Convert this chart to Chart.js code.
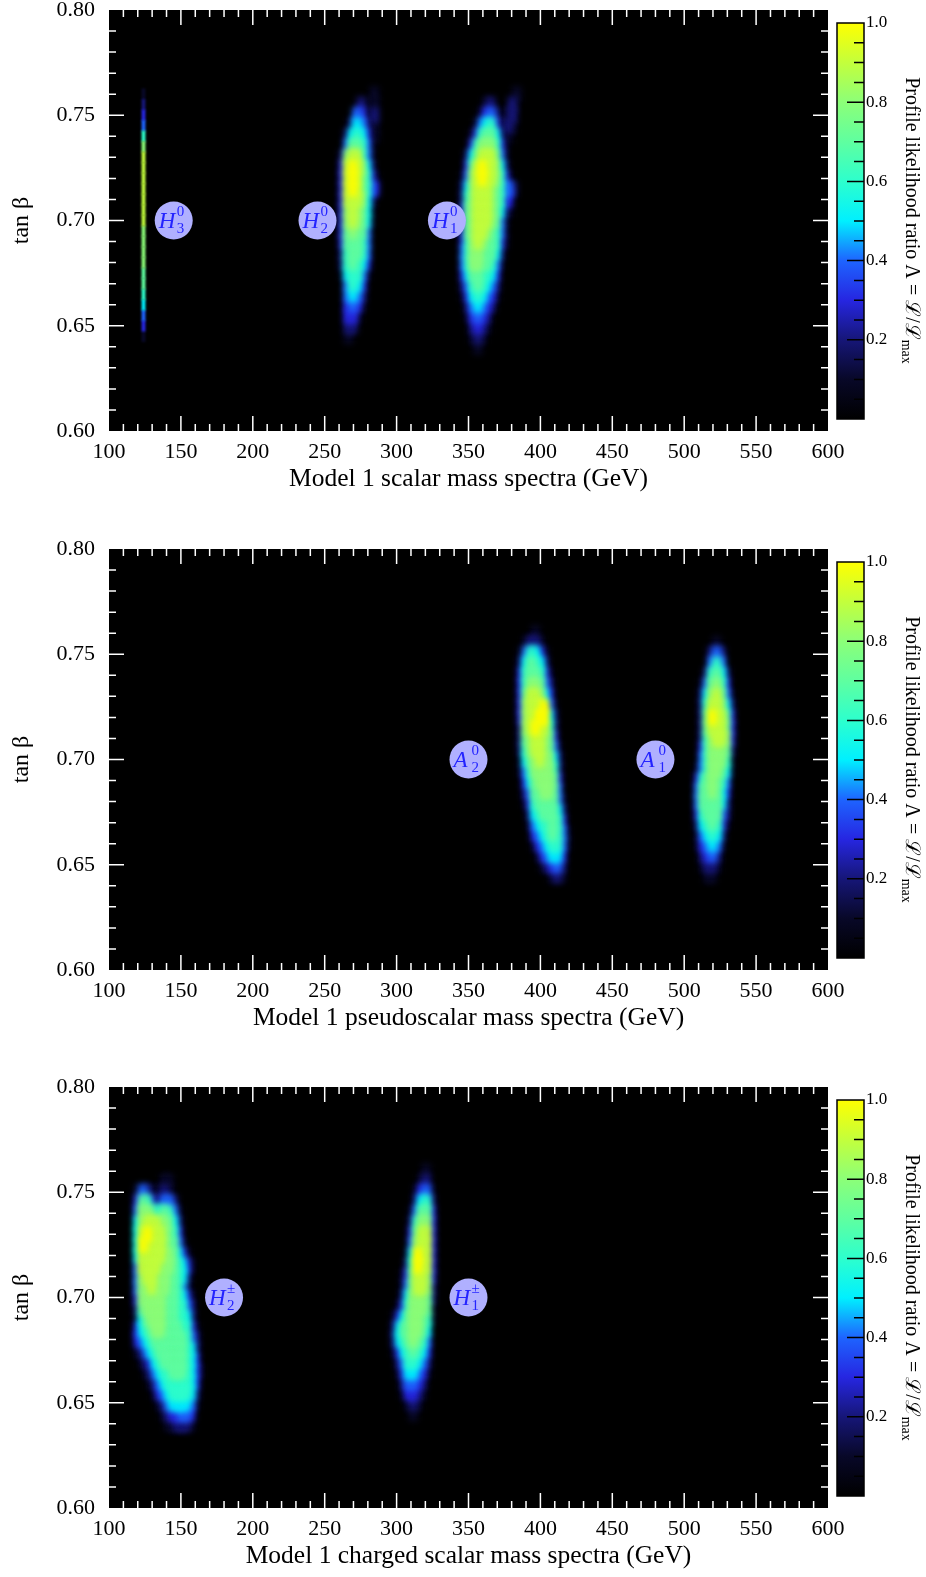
<!DOCTYPE html>
<html>
<head>
<meta charset="utf-8">
<script src="https://cdn.jsdelivr.net/npm/chart.js@4.4.1/dist/chart.umd.min.js"></script>
<style>
  html, body { margin: 0; padding: 0; background: #fff; }
  canvas { position: absolute; left: 0; }
</style>
</head>
<body>
<canvas id="scalar" style="top:0px" width="926" height="500"></canvas>
<canvas id="pseudo" style="top:539px" width="926" height="500"></canvas>
<canvas id="charged" style="top:1077px" width="926" height="500"></canvas>
<script>
/* AXES */
const massMin = 100, massMax = 600, massStep = 50;
const tanMin = 0.60, tanMax = 0.80, tanTickStep = 0.05;
const barTicks = [0.2, 0.4, 0.6, 0.8, 1.0];
const tanRow = 0.005; // spacing of the likelihood grid rows

const panelTitles = [
    'Model 1 scalar mass spectra (GeV)',
    'Model 1 pseudoscalar mass spectra (GeV)',
    'Model 1 charged scalar mass spectra (GeV)'
];

/* LIKELIHOOD GRIDS: one string per tan beta row (top row first), one digit per mass cell, digit = Lambda x 10 (a = 1.0) */

// H3 0 : mass 123-125, rows from 0.760
const h3Start = [123, 0.760], h3Cell = 2;
const h3Rows = ['1','2','3','4','6','8','9','9','9','9','9','9','9','8','8','8','8','7','7','6','5','4','3','1'];

// H2 0 : cells of 3 GeV from 262
const h2Start = [262, 0.760], h2Cell = 3;
const h2Rows = [
    '00000001',
    '00002001',
    '00043002',
    '00254201',
    '02565301',
    '04776410',
    '28996410',
    '39a98520',
    '39a97631',
    '39a97643',
    '39998520',
    '38987510',
    '38987510',
    '37877400',
    '37776400',
    '26776400',
    '26765300',
    '15664100',
    '04653000',
    '04542000',
    '03431000',
    '03310000',
    '02200000',
    '01000000'
];

// H1 0 : cells of 3 GeV from 343
const h1Start = [343, 0.760], h1Cell = 3;
const h1Rows = [
    '00000000000001',
    '00000012000020',
    '00000134200120',
    '00001456310210',
    '00013677520100',
    '00036888631000',
    '00257999741000',
    '00379a99852000',
    '01489a99863100',
    '02589998764420',
    '02689998763300',
    '03789998752100',
    '03789998741000',
    '03789987641000',
    '03689877631000',
    '04688777520000',
    '04688776410000',
    '03577665300000',
    '02467654200000',
    '01356543100000',
    '00245432000000',
    '00134320000000',
    '00023210000000',
    '00012100000000',
    '00001000000000'
];

// A2 0 : cells of 3 GeV from 383
const a2Start = [383, 0.760], a2Cell = 3;
const a2Rows = [
    '0000100000000',
    '0012210000000',
    '0146531000000',
    '0257652000000',
    '0367763100000',
    '0368874200000',
    '0379985300000',
    '038999a410000',
    '03899aa520000',
    '0289a99620000',
    '0278998730000',
    '0268998741000',
    '0157898852000',
    '0146888862000',
    '0035788873000',
    '0024778874000',
    '0013677774100',
    '0002567775200',
    '0001456676300',
    '0000345676410',
    '0000134566410',
    '0000013455300',
    '0000001234200',
    '0000000012100'
];

// A1 0 : cells of 3 GeV from 506
const a1Start = [506, 0.755], a1Cell = 3;
const a1Rows = [
    '000001000',
    '000024200',
    '000046400',
    '000267520',
    '001478630',
    '002589741',
    '002699852',
    '0027a9973',
    '002799973',
    '002689983',
    '003688872',
    '004688861',
    '014688751',
    '036787640',
    '047787530',
    '047777520',
    '036777420',
    '025676310',
    '014565200',
    '013454100',
    '002342000',
    '001221000',
    '000110000'
];

// H2 +- : cells of 3 GeV from 116
const hc2Start = [116, 0.755], hc2Cell = 3;
const hc2Rows = [
    '00000001100000000',
    '01421012100000000',
    '03763124420000000',
    '04887567641000000',
    '0589998875200000',
    '059a999876300000',
    '05a9999877410000',
    '05999998875310000',
    '04999988876531000',
    '04899888776520000',
    '04889888776410000',
    '03888887776531000',
    '02788887776642000',
    '01578887776652000',
    '03567887777663100',
    '03456777777764200',
    '01245677777765200',
    '00123567777765300',
    '00012456677765310',
    '00001245666665300',
    '00000134566665200',
    '00000012455554100',
    '00000001233443000',
    '00000000112221000'
];

// H1 +- : cells of 3 GeV from 295
const hc1Start = [295, 0.760], hc1Cell = 3;
const hc1Rows = [
    '0000000010',
    '0000000120',
    '0000001341',
    '0000002562',
    '0000014773',
    '0000026883',
    '0000037993',
    '0000048993',
    '000015a993',
    '000026a993',
    '0001379983',
    '0001479982',
    '0002588872',
    '0013688871',
    '0135788761',
    '0257788750',
    '0256787640',
    '0135676530',
    '0024665420',
    '0013554310',
    '0002443200',
    '0001332100',
    '0000121000',
    '0000010000'
];

/* CIRCLED LABELS */
const scalarLabelMass = [145, 245, 335];
const scalarLabelSub = ['3', '2', '1'];
const pseudoLabelMass = [350, 480];
const pseudoLabelSub = ['2', '1'];
const chargedLabelMass = [180, 350];
const chargedLabelSub = ['2', '1'];
const labelTan = 0.70;

/* COLOUR MAP */
const cmapStops = [0, 0.1, 0.2, 0.3, 0.4, 0.45, 0.5, 0.6, 0.7, 0.8, 0.9, 1.0];
const cmapColors = [
    [0, 0, 0], [8, 8, 40], [22, 22, 120], [38, 38, 225], [30, 100, 255], [15, 170, 255],
    [0, 240, 255], [45, 255, 205], [95, 255, 160], [140, 255, 120], [195, 255, 60], [255, 255, 0]
];

function cmap(v) {
    v = Math.max(0, Math.min(1, v));
    let i = 1;
    while (i < cmapStops.length - 1 && v > cmapStops[i]) i++;
    const f = (v - cmapStops[i - 1]) / (cmapStops[i] - cmapStops[i - 1]);
    const a = cmapColors[i - 1], b = cmapColors[i];
    const c = a.map((ca, k) => Math.round(ca + (b[k] - ca) * f));
    return 'rgb(' + c.join(',') + ')';
}

// grid rows -> floating bars; dim cells first so the bright core is drawn on top
function cells(rows, start, width) {
    const out = [];
    rows.forEach((row, i) => {
        const tan = Number((start[1] - i * tanRow).toFixed(3));
        for (let j = 0; j < row.length; j++) {
            const v = parseInt(row[j], 16) / 10;
            if (v > 0) out.push({ x: [start[0] + j * width, start[0] + (j + 1) * width], y: tan, v: v });
        }
    });
    return out.sort((a, b) => a.v - b.v);
}

function heat(rows, start, width, blur, inflate) {
    return {
        type: 'bar',
        indexAxis: 'y',
        data: cells(rows, start, width),
        grouped: false,
        categoryPercentage: 1,
        barPercentage: 1,
        borderWidth: 0,
        inflateAmount: inflate,
        blur: blur,
        backgroundColor: c => c.raw ? cmap(c.raw.v) : '#000'
    };
}

function circles(letter, sup, masses, subs) {
    return {
        type: 'scatter',
        data: masses.map((m, i) => ({ x: m, y: labelTan, letter: letter, sup: sup, sub: subs[i] })),
        pointRadius: 19,
        pointHoverRadius: 19,
        pointBackgroundColor: '#b0b0ff',
        pointBorderWidth: 0
    };
}

/* PLUGINS */

const serif = '"Liberation Serif", "DejaVu Serif", serif';

const frame = {
    id: 'frame',
    beforeDatasetsDraw(chart) {
        const { ctx, chartArea: a } = chart;
        ctx.save();
        ctx.fillStyle = '#000';
        ctx.fillRect(a.left, a.top, a.right - a.left, a.bottom - a.top);
        ctx.restore();
    },
    beforeDatasetDraw(chart, args) {
        const ds = chart.data.datasets[args.index];
        if (ds.blur) chart.ctx.filter = 'blur(' + ds.blur + 'px)';
    },
    afterDatasetDraw(chart) {
        chart.ctx.filter = 'none';
    },
    afterDatasetsDraw(chart) {
        const { ctx, chartArea: a, scales: { x, y } } = chart;
        ctx.save();
        // white ticks inside the frame
        ctx.strokeStyle = '#fff';
        ctx.lineWidth = 1.5;
        ctx.beginPath();
        for (let m = massMin + 10; m < massMax; m += 10) {
            const px = x.getPixelForValue(m);
            const len = m % 50 === 0 ? 15 : 7;
            ctx.moveTo(px, a.bottom); ctx.lineTo(px, a.bottom - len);
            ctx.moveTo(px, a.top); ctx.lineTo(px, a.top + len);
        }
        for (let k = 61; k < 80; k++) {
            const py = y.getPixelForValue(k / 100);
            const len = k % 5 === 0 ? 15 : 7;
            ctx.moveTo(a.left, py); ctx.lineTo(a.left + len, py);
            ctx.moveTo(a.right, py); ctx.lineTo(a.right - len, py);
        }
        ctx.stroke();

        // text in the circles
        chart.data.datasets.forEach((ds, di) => {
            if (ds.type !== 'scatter') return;
            chart.getDatasetMeta(di).data.forEach((pt, i) => {
                const d = ds.data[i];
                ctx.fillStyle = '#2424ff';
                ctx.textBaseline = 'alphabetic';
                ctx.textAlign = 'left';
                ctx.font = 'italic 23px ' + serif;
                ctx.fillText(d.letter, pt.x - 15, pt.y + 7);
                ctx.font = '15px ' + serif;
                ctx.fillText(d.sup, pt.x + 3, pt.y - 5);
                ctx.fillText(d.sub, pt.x + 3, pt.y + 12);
            });
        });
        ctx.restore();
    },
    afterDraw(chart) {
        const { ctx, chartArea: a } = chart;
        const bar = { left: a.right + 9, right: a.right + 36, top: a.top + 13, bottom: a.bottom - 12 };
        const toPx = v => bar.bottom - v * (bar.bottom - bar.top);
        ctx.save();
        const g = ctx.createLinearGradient(0, bar.bottom, 0, bar.top);
        cmapStops.forEach((s, i) => g.addColorStop(s, 'rgb(' + cmapColors[i].join(',') + ')'));
        ctx.fillStyle = g;
        ctx.fillRect(bar.left, bar.top, bar.right - bar.left, bar.bottom - bar.top);
        ctx.strokeStyle = '#000';
        ctx.lineWidth = 1.5;
        ctx.strokeRect(bar.left, bar.top, bar.right - bar.left, bar.bottom - bar.top);
        ctx.beginPath();
        for (let k = 1; k < 20; k++) {
            const py = toPx(k / 20);
            const len = k % 4 === 0 ? 17 : 10;
            ctx.moveTo(bar.right, py); ctx.lineTo(bar.right - len, py);
        }
        ctx.stroke();
        ctx.fillStyle = '#000';
        ctx.font = '17px ' + serif;
        ctx.textAlign = 'left';
        ctx.textBaseline = 'middle';
        barTicks.forEach(v => ctx.fillText(v.toFixed(1), bar.right + 2, toPx(v)));

        // colour bar title, rotated
        ctx.translate(a.right + 84, (a.top + a.bottom) / 2);
        ctx.rotate(Math.PI / 2);
        ctx.font = '20px ' + serif;
        const main = 'Profile likelihood ratio \u039B = \u2112/\u2112';
        const w1 = ctx.measureText(main).width;
        ctx.font = '14px ' + serif;
        const w2 = ctx.measureText('max').width;
        const x0 = -(w1 + w2) / 2;
        ctx.textBaseline = 'alphabetic';
        ctx.font = '20px ' + serif;
        ctx.fillText(main, x0, 6);
        ctx.font = '14px ' + serif;
        ctx.fillText('max', x0 + w1, 10);
        ctx.restore();
    }
};

/* PANELS */

function panel(id, title, datasets) {
    return new Chart(document.getElementById(id), {
        type: 'scatter',
        data: { datasets: datasets },
        options: {
            responsive: false,
            animation: false,
            events: [],
            layout: { autoPadding: false, padding: { left: 0, top: 10, right: 98, bottom: 0 } },
            plugins: { legend: { display: false }, tooltip: { enabled: false } },
            scales: {
                x: {
                    type: 'linear', min: massMin, max: massMax, offset: false,
                    afterFit: s => { s.height = 69; s.paddingLeft = 0; s.paddingRight = 0; },
                    grid: { display: false, drawTicks: false },
                    border: { display: false },
                    ticks: { stepSize: massStep, padding: 8, color: '#000', maxRotation: 0, autoSkip: false, font: { family: serif, size: 22 } },
                    title: { display: true, text: title, color: '#000', font: { family: serif, size: 25.5 }, padding: { top: 0, bottom: 5 } }
                },
                y: {
                    type: 'linear', min: tanMin, max: tanMax, offset: false,
                    afterFit: s => { s.width = 109; s.paddingTop = 0; s.paddingBottom = 0; },
                    grid: { display: false, drawTicks: false },
                    border: { display: false },
                    ticks: { stepSize: tanTickStep, padding: 14, color: '#000', font: { family: serif, size: 22 }, callback: v => v.toFixed(2) },
                    title: { display: true, text: 'tan \u03B2', color: '#000', font: { family: serif, size: 24 }, padding: { top: 7, bottom: 0 } }
                }
            }
        },
        plugins: [frame]
    });
}

panel('scalar', panelTitles[0], [
    circles('H', '0', scalarLabelMass, scalarLabelSub),
    heat(h3Rows, h3Start, h3Cell, 1, 0.5),
    heat(h2Rows, h2Start, h2Cell, 3, 2.5),
    heat(h1Rows, h1Start, h1Cell, 3, 2.5)
]);

panel('pseudo', panelTitles[1], [
    circles('A', '0', pseudoLabelMass, pseudoLabelSub),
    heat(a2Rows, a2Start, a2Cell, 3, 2.5),
    heat(a1Rows, a1Start, a1Cell, 3, 2.5)
]);

panel('charged', panelTitles[2], [
    circles('H', '\u00B1', chargedLabelMass, chargedLabelSub),
    heat(hc2Rows, hc2Start, hc2Cell, 3, 2.5),
    heat(hc1Rows, hc1Start, hc1Cell, 3, 2.5)
]);
</script>
</body>
</html>
